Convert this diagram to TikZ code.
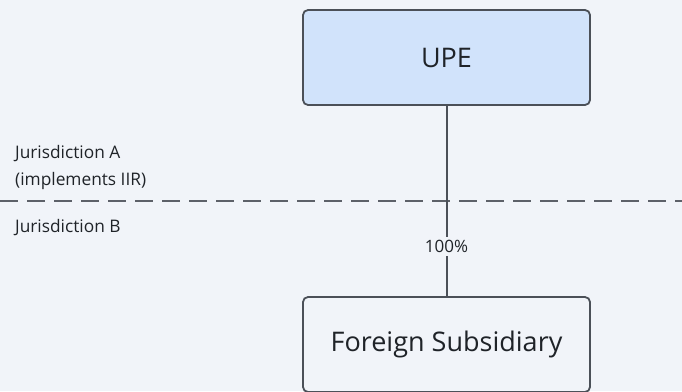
\documentclass[tikz,border=0pt]{standalone}
\usepackage{fontspec}
\setmainfont{Open Sans}
\definecolor{bgc}{HTML}{F1F4F9}
\definecolor{edgec}{HTML}{4B5058}
\definecolor{upec}{HTML}{D1E3FB}
\definecolor{txtc}{HTML}{1F2328}
\tikzset{
  entity/.style={draw=edgec,line width=1.8pt,rounded corners=5pt,minimum width=287pt,minimum height=95pt,font=\fontsize{27}{30}\selectfont,text=txtc},
  jlabel/.style={anchor=base west,align=left,font=\fontsize{17.3}{27}\selectfont,text=txtc,inner sep=0pt},
  border/.style={edgec!90,line width=1.3pt,dash pattern=on 18pt off 9pt}
}
\begin{document}
\begin{tikzpicture}[x=1pt,y=-1pt]
  \fill[bgc] (0,0) rectangle (682,391);
  \useasboundingbox (0,0) rectangle (682,391);
  \clip (0,0) rectangle (682,391);
  \node[entity,fill=upec] (upe) at (446.5,57.5) {UPE};
  \node[entity,fill=bgc] (sub) at (446.5,344.5) {Foreign Subsidiary};
  \coordinate (jwest) at (0,201);
  \coordinate (jeast) at (682,201);
  \draw[border] (jwest) -- (jeast);
  \node[jlabel] (ja) at (15,185) {Jurisdiction A\\(implements IIR)};
  \node[jlabel] (jb) at (15,232) {Jurisdiction B};
  \draw[edgec,line width=2pt] (upe) -- node[pos=0.74,fill=bgc,text=txtc,inner sep=3pt,font=\fontsize{17}{20}\selectfont] (own) {100\%} (sub);
\end{tikzpicture}
\end{document}
